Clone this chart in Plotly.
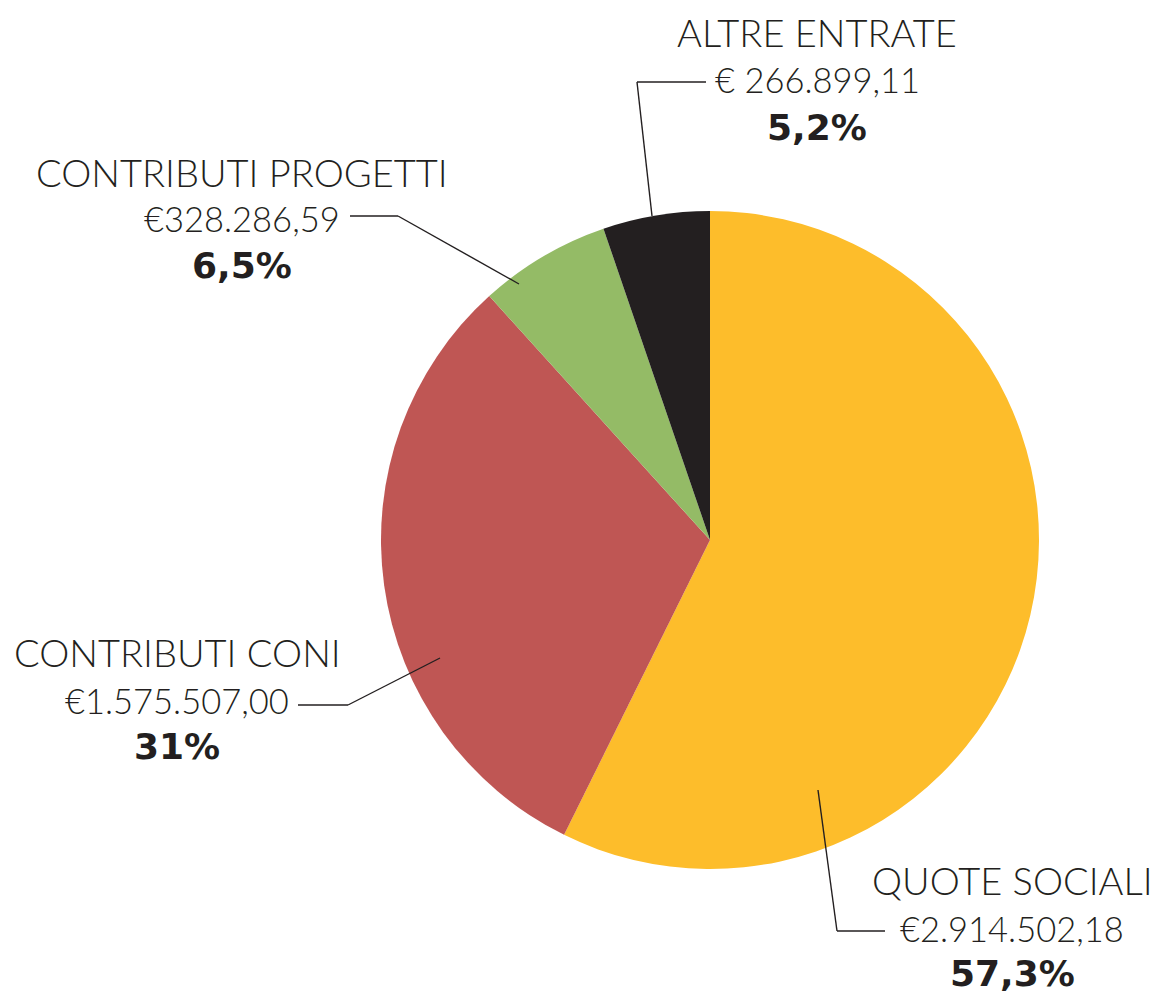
import plotly.graph_objects as go

# ---- data ----
categories = ["QUOTE SOCIALI", "CONTRIBUTI CONI", "CONTRIBUTI PROGETTI", "ALTRE ENTRATE"]
values = [2914502.18, 1575507.00, 328286.59, 266899.11]
amount_labels = ["€2.914.502,18", "€1.575.507,00", "€328.286,59", "€ 266.899,11"]
percent_labels = ["57,3%", "31%", "6,5%", "5,2%"]
colors = ["#FDBD2B", "#BF5654", "#94BB66", "#231F20"]

W, H = 1157, 994
ink = "#231F20"

# label layout (pixel positions of line centres) and leader-line paths
label_pos = {
    "QUOTE SOCIALI": (1012, [880, 928, 973]),
    "CONTRIBUTI CONI": (177, [652, 700, 746]),
    "CONTRIBUTI PROGETTI": (242, [172, 218, 265]),
    "ALTRE ENTRATE": (817, [32, 80, 127]),
}
leaders = {
    "QUOTE SOCIALI": [(818, 790), (837, 931), (885, 931)],
    "CONTRIBUTI CONI": [(440, 658), (348, 705), (298, 705)],
    "CONTRIBUTI PROGETTI": [(519, 284), (398, 216), (350, 216)],
    "ALTRE ENTRATE": [(652, 216), (637, 82), (706, 82)],
}

def px(x):
    return x / W

def py(y):
    return 1 - y / H

cx, cy, r = 710, 540, 329

fig = go.Figure(go.Pie(
    labels=categories,
    values=values,
    marker=dict(colors=colors, line=dict(width=0)),
    sort=False,
    direction="clockwise",
    rotation=0,
    textinfo="none",
    hoverinfo="label+value+percent",
    domain=dict(x=[px(cx - r), px(cx + r)], y=[py(cy + r), py(cy - r)]),
    showlegend=False,
))

title_font = dict(family="Lato, 'Open Sans', sans-serif", size=38, color=ink, weight=300)
amount_font = dict(family="Lato, 'Open Sans', sans-serif", size=34.5, color=ink, weight=300)
bold = dict(family="'DejaVu Sans', sans-serif", size=36, color=ink, weight=700)

annotations = []
shapes = []
for cat, amt, pct in zip(categories, amount_labels, percent_labels):
    x, ys = label_pos[cat]
    for txt, y, f in zip([cat, amt, pct], ys, [title_font, amount_font, bold]):
        annotations.append(dict(
            text=txt, x=px(x), y=py(y), xref="paper", yref="paper",
            xanchor="center", yanchor="middle", showarrow=False, font=f,
        ))
    pts = leaders[cat]
    for (x0, y0), (x1, y1) in zip(pts[:-1], pts[1:]):
        shapes.append(dict(
            type="line", xref="paper", yref="paper",
            x0=px(x0), y0=py(y0), x1=px(x1), y1=py(y1),
            line=dict(color=ink, width=1.4),
        ))

fig.update_layout(
    width=W, height=H,
    margin=dict(l=0, r=0, t=0, b=0),
    paper_bgcolor="white",
    plot_bgcolor="white",
    annotations=annotations,
    shapes=shapes,
)

fig.write_html("out.html", config={"displayModeBar": False},
               post_script="document.body.style.margin='0';")
